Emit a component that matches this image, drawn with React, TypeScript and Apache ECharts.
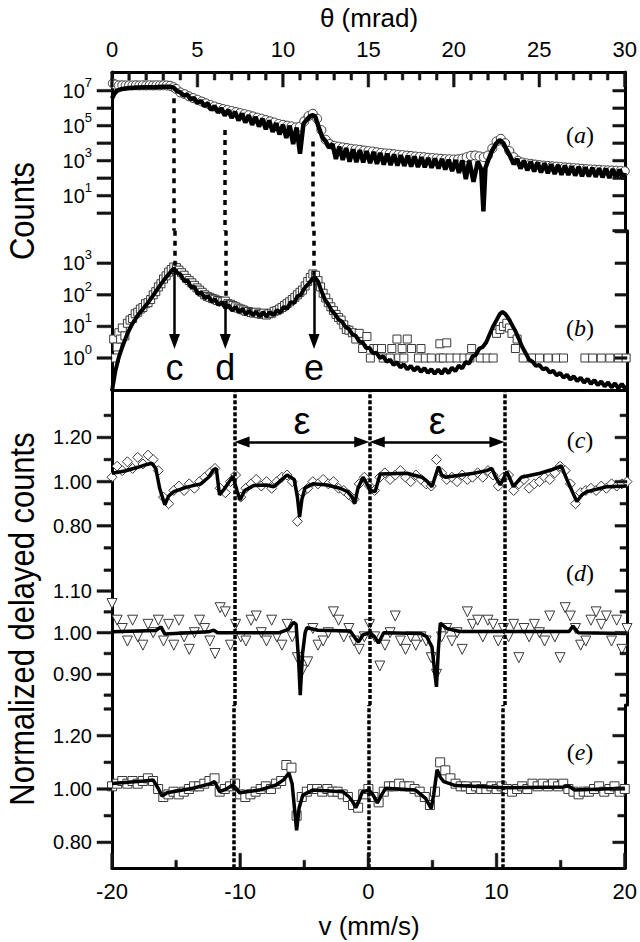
import React, { useEffect, useRef } from "react";
import * as echarts from "echarts";

const FONT = "'Liberation Sans', Arial, Helvetica, sans-serif";
const SERIF = "'Liberation Serif', 'Times New Roman', serif";

// ---------------- DATA ----------------
// Panel (a): measured counts (open circles), [theta mrad, log10(counts)]
const aMeasuredLog: [number, number][] = [
  [0.05, 7.42], [0.2, 7.35], [0.4, 7.3], [0.6, 7.31], [0.8, 7.3], [1.0, 7.31], [1.2, 7.3], [1.4, 7.31],
  [1.6, 7.3], [1.8, 7.31], [2.0, 7.3], [2.2, 7.31], [2.4, 7.3], [2.6, 7.31], [2.8, 7.3], [3.0, 7.31],
  [3.2, 7.3], [3.4, 7.28], [3.6, 7.2], [3.75, 7.1], [4.0, 6.9], [4.25, 6.8], [4.5, 6.68], [4.75, 6.58],
  [5.0, 6.48], [5.25, 6.38], [5.5, 6.28], [5.75, 6.18], [6.0, 6.1], [6.25, 6.02], [6.5, 5.95], [6.75, 5.9],
  [7.0, 5.84], [7.25, 5.78], [7.5, 5.72], [7.75, 5.66], [8.0, 5.6], [8.25, 5.53], [8.5, 5.46], [8.75, 5.4],
  [9.0, 5.32], [9.25, 5.25], [9.5, 5.18], [9.75, 5.1], [10.0, 5.05], [10.25, 5.0], [10.5, 4.96], [10.75, 4.9],
  [11.0, 4.95], [11.25, 5.25], [11.5, 5.55], [11.75, 5.68], [12.0, 5.4], [12.25, 4.75], [12.5, 4.2], [12.75, 3.95],
  [13.0, 3.85], [13.25, 3.8], [13.5, 3.76], [13.75, 3.72], [14.0, 3.68], [14.25, 3.65], [14.5, 3.62], [14.75, 3.58],
  [15.0, 3.55], [15.25, 3.52], [15.5, 3.48], [15.75, 3.45], [16.0, 3.42], [16.25, 3.4], [16.5, 3.37], [16.75, 3.34],
  [17.0, 3.32], [17.25, 3.29], [17.5, 3.27], [17.75, 3.24], [18.0, 3.22], [18.25, 3.2], [18.5, 3.17], [18.75, 3.15],
  [19.0, 3.13], [19.25, 3.11], [19.5, 3.09], [19.75, 3.08], [20.0, 3.07], [20.25, 3.08], [20.5, 3.12], [20.75, 3.2],
  [21.0, 3.28], [21.25, 3.3], [21.5, 3.25], [21.75, 3.2], [22.0, 3.3], [22.25, 3.7], [22.5, 4.1], [22.75, 4.25],
  [23.0, 4.0], [23.25, 3.55], [23.5, 3.2], [23.75, 3.0], [24.0, 2.9], [24.25, 2.85], [24.5, 2.82], [24.75, 2.78],
  [25.0, 2.75], [25.25, 2.72], [25.5, 2.7], [25.75, 2.68], [26.0, 2.66], [26.25, 2.64], [26.5, 2.62], [26.75, 2.6],
  [27.0, 2.58], [27.25, 2.56], [27.5, 2.54], [27.75, 2.52], [28.0, 2.5], [28.25, 2.49], [28.5, 2.48], [28.75, 2.46],
  [29.0, 2.45], [29.25, 2.44], [29.5, 2.43], [29.75, 2.42], [30.0, 2.4],
];
// Panel (a): fit
const aFitLog: [number, number][] = [
  [0, 6.55], [0.15, 6.85], [0.3, 7.0], [0.6, 7.1], [1.0, 7.15], [1.5, 7.18], [2.0, 7.2], [2.5, 7.2], [3.0, 7.22], [3.4, 7.22],
  [3.6, 7.18], [3.8, 6.98], [4.0, 6.9], [4.2, 6.72], [4.4, 6.78], [4.6, 6.52], [4.8, 6.58], [5.0, 6.3], [5.2, 6.42], [5.4, 6.12],
  [5.6, 6.28], [5.8, 5.9], [6.0, 6.12], [6.2, 5.75], [6.4, 6.0], [6.6, 5.58], [6.8, 5.9], [7.0, 5.45], [7.2, 5.8], [7.4, 5.3],
  [7.6, 5.7], [7.8, 5.18], [8.0, 5.6], [8.2, 5.05], [8.4, 5.5], [8.6, 4.95], [8.8, 5.4], [9.0, 4.8], [9.2, 5.3], [9.4, 4.65],
  [9.6, 5.15], [9.8, 4.5], [10.0, 5.05], [10.2, 4.3], [10.4, 5.0], [10.6, 3.95], [10.8, 4.9], [11.0, 3.4], [11.2, 5.1], [11.4, 5.35],
  [11.6, 5.55], [11.75, 5.6], [11.9, 5.5], [12.1, 4.9], [12.3, 4.35], [12.5, 4.1], [12.7, 3.75], [12.9, 3.95], [13.1, 3.1], [13.3, 3.8],
  [13.5, 3.05], [13.7, 3.72], [13.9, 2.95], [14.1, 3.65], [14.3, 2.92], [14.5, 3.6], [14.7, 2.9], [14.9, 3.55], [15.1, 2.86], [15.3, 3.5],
  [15.5, 2.82], [15.7, 3.45], [15.9, 2.78], [16.1, 3.4], [16.3, 2.75], [16.5, 3.36], [16.7, 2.72], [16.9, 3.32], [17.1, 2.7], [17.3, 3.28],
  [17.5, 2.67], [17.7, 3.24], [17.9, 2.64], [18.1, 3.2], [18.3, 2.62], [18.5, 3.16], [18.7, 2.6], [18.9, 3.12], [19.1, 2.56], [19.3, 3.1],
  [19.5, 2.5], [19.7, 3.06], [19.9, 2.4], [20.1, 3.04], [20.3, 2.3], [20.5, 3.02], [20.7, 1.95], [20.9, 3.0], [21.15, 1.8], [21.4, 2.95],
  [21.6, 2.5], [21.73, 0.1], [21.85, 2.6], [22.0, 3.0], [22.2, 3.5], [22.45, 3.95], [22.68, 4.18], [22.9, 4.0], [23.1, 3.6], [23.3, 3.25],
  [23.5, 2.8], [23.7, 3.1], [23.9, 2.55], [24.1, 3.0], [24.3, 2.45], [24.5, 2.95], [24.7, 2.38], [24.9, 2.9], [25.1, 2.33], [25.3, 2.85],
  [25.5, 2.28], [25.7, 2.8], [25.9, 2.24], [26.1, 2.76], [26.3, 2.2], [26.5, 2.72], [26.7, 2.18], [26.9, 2.68], [27.1, 2.15], [27.3, 2.65],
  [27.5, 2.12], [27.7, 2.62], [27.9, 2.1], [28.1, 2.6], [28.3, 2.08], [28.5, 2.57], [28.7, 2.05], [28.9, 2.55], [29.1, 2.02], [29.3, 2.52],
  [29.5, 2.0], [29.7, 2.5], [29.9, 1.95], [30.0, 2.3],
];
// Panel (b): measured delayed counts (open squares)
const bMeasuredLog: [number, number][] = [
  [0.1, 0.6], [0.2, 0.0], [0.3, 0.35], [0.4, 0.8], [0.5, 0.6], [0.6, 0.95], [0.75, 0.7], [0.9, 1.1], [1.05, 1.2], [1.2, 1.25],
  [1.35, 1.4], [1.5, 1.45], [1.65, 1.55], [1.8, 1.6], [1.95, 1.72], [2.1, 1.75], [2.25, 1.85], [2.4, 2.0], [2.55, 2.1], [2.7, 2.25],
  [2.85, 2.35], [3.0, 2.5], [3.15, 2.6], [3.3, 2.72], [3.45, 2.8], [3.6, 2.88], [3.75, 2.86], [3.9, 2.78], [4.05, 2.7], [4.2, 2.62],
  [4.35, 2.52], [4.5, 2.45], [4.65, 2.38], [4.8, 2.3], [4.95, 2.22], [5.1, 2.15], [5.25, 2.08], [5.4, 2.0], [5.55, 1.95], [5.7, 1.92],
  [5.85, 1.88], [6.0, 1.86], [6.15, 1.82], [6.3, 1.8], [6.45, 1.78], [6.6, 1.8], [6.75, 1.72], [6.9, 1.7], [7.05, 1.66], [7.2, 1.62],
  [7.35, 1.58], [7.5, 1.55], [7.65, 1.52], [7.8, 1.48], [7.95, 1.47], [8.1, 1.44], [8.25, 1.42], [8.4, 1.45], [8.55, 1.4], [8.7, 1.38],
  [8.85, 1.42], [9.0, 1.36], [9.15, 1.4], [9.3, 1.42], [9.45, 1.48], [9.6, 1.5], [9.75, 1.55], [9.9, 1.6], [10.05, 1.66], [10.2, 1.72],
  [10.35, 1.78], [10.5, 1.85], [10.65, 1.92], [10.8, 2.0], [10.95, 2.08], [11.1, 2.15], [11.25, 2.28], [11.4, 2.42], [11.55, 2.55], [11.7, 2.66],
  [11.85, 2.62], [12.0, 2.45], [12.15, 2.25], [12.3, 2.05], [12.45, 1.9], [12.6, 1.75], [12.75, 1.62], [12.9, 1.5], [13.05, 1.38], [13.2, 1.28],
  [13.35, 1.2], [13.5, 1.05], [13.65, 0.9], [13.8, 0.88], [14.0, 0.8], [14.2, 0.6], [14.4, 0.78], [14.6, 0.3], [14.85, 0.68], [15.05, 0.0],
  [15.25, 0.3], [15.45, 0.3], [15.7, 0.3], [15.8, 0.0], [16.2, 0.0], [16.3, 0.3], [16.6, 0.6], [16.7, 0.0], [16.9, 0.3], [17.0, 0.0],
  [17.2, 0.6], [17.45, 0.3], [17.85, 0.0], [18.0, 0.3], [18.25, 0.0], [18.6, 0.0], [19.1, 0.45], [19.1, 0.0], [19.3, 0.0], [19.5, 0.48],
  [19.7, 0.0], [20.1, 0.0], [20.5, 0.0], [20.85, 0.0], [20.95, 0.3], [21.45, 0.0], [21.85, 0.0], [22.2, 0.0], [22.4, 0.78], [22.6, 0.9],
  [22.8, 1.0], [23.0, 1.1], [23.15, 0.95], [23.3, 0.78], [23.5, 0.3], [23.6, 0.6], [23.95, 0.0], [24.45, 0.0], [24.9, 0.0], [25.4, 0.0],
  [25.9, 0.0], [26.3, 0.0], [27.55, 0.0], [28.0, 0.0], [28.5, 0.0], [29.0, 0.0], [29.5, 0.0], [29.95, 0.0],
];
// Panel (b): fit
const bFitLog: [number, number][] = [
  [0.0, -1.05], [0.2, -0.4], [0.4, 0.03], [0.6, 0.35], [0.9, 0.78], [1.2, 1.1], [1.5, 1.35], [1.8, 1.55], [2.1, 1.75], [2.4, 1.98],
  [2.7, 2.22], [3.0, 2.45], [3.3, 2.65], [3.6, 2.84], [3.8, 2.7], [4.0, 2.64], [4.2, 2.44], [4.4, 2.46], [4.6, 2.24], [4.8, 2.26],
  [5.0, 2.02], [5.2, 2.08], [5.4, 1.89], [5.6, 1.96], [5.8, 1.79], [6.0, 1.86], [6.2, 1.68], [6.4, 1.77], [6.6, 1.58], [6.8, 1.67],
  [7.0, 1.5], [7.2, 1.62], [7.4, 1.45], [7.6, 1.55], [7.8, 1.38], [8.0, 1.5], [8.2, 1.35], [8.4, 1.47], [8.6, 1.31], [8.8, 1.45],
  [9.0, 1.31], [9.2, 1.46], [9.4, 1.35], [9.6, 1.52], [9.8, 1.43], [10.0, 1.62], [10.2, 1.55], [10.4, 1.77], [10.6, 1.74], [10.8, 1.95],
  [11.0, 2.0], [11.2, 2.2], [11.4, 2.32], [11.6, 2.45], [11.8, 2.57], [12.0, 2.42], [12.2, 2.12], [12.4, 1.85], [12.6, 1.7], [12.8, 1.5],
  [13.0, 1.38], [13.2, 1.22], [13.4, 1.15], [13.6, 0.98], [13.8, 0.92], [14.0, 0.75], [14.2, 0.7], [14.4, 0.52], [14.6, 0.5], [14.8, 0.32],
  [15.0, 0.32], [15.2, 0.15], [15.4, 0.17], [15.6, 0.0], [15.8, 0.05], [16.0, -0.12], [16.2, -0.05], [16.4, -0.22], [16.6, -0.13], [16.8, -0.3],
  [17.0, -0.2], [17.2, -0.36], [17.4, -0.25], [17.6, -0.4], [17.8, -0.28], [18.0, -0.44], [18.2, -0.32], [18.4, -0.47], [18.6, -0.35], [18.8, -0.5],
  [19.0, -0.36], [19.2, -0.5], [19.4, -0.34], [19.6, -0.48], [19.8, -0.3], [20.0, -0.42], [20.2, -0.24], [20.4, -0.33], [20.6, -0.12], [20.8, -0.18],
  [21.0, 0.05], [21.2, 0.1], [21.4, 0.3], [21.6, 0.35], [21.8, 0.5], [22.0, 0.75], [22.2, 1.0], [22.4, 1.2], [22.6, 1.4], [22.75, 1.46],
  [22.9, 1.4], [23.1, 1.25], [23.3, 1.05], [23.5, 0.85], [23.7, 0.6], [23.9, 0.35], [24.1, 0.15], [24.3, -0.05], [24.5, -0.12], [24.7, -0.25],
  [24.9, -0.22], [25.1, -0.36], [25.3, -0.32], [25.5, -0.46], [25.7, -0.4], [25.9, -0.55], [26.1, -0.47], [26.3, -0.62], [26.5, -0.53], [26.7, -0.68],
  [26.9, -0.58], [27.1, -0.73], [27.3, -0.62], [27.5, -0.78], [27.7, -0.66], [27.9, -0.82], [28.1, -0.7], [28.3, -0.86], [28.5, -0.74], [28.7, -0.9],
  [28.9, -0.77], [29.1, -0.93], [29.3, -0.8], [29.5, -0.96], [29.7, -0.82], [29.9, -0.98], [30.0, -0.9],
];
// Lower panels: velocity channels (mm/s)
const velocity: number[] = [
  -20, -19.6, -19.2, -18.8, -18.4, -18, -17.6, -17.2, -16.8, -16.4, -16, -15.6, -15.2, -14.8, -14.4, -14, -13.6, -13.2, -12.8, -12.4,
  -12, -11.6, -11.2, -10.8, -10.4, -10, -9.6, -9.2, -8.8, -8.4, -8, -7.6, -7.2, -6.8, -6.4, -6, -5.6, -5.2, -4.8, -4.4,
  -4, -3.6, -3.2, -2.8, -2.4, -2, -1.6, -1.2, -0.8, -0.4, 0, 0.4, 0.8, 1.2, 1.6, 2, 2.4, 2.8, 3.2, 3.6,
  4, 4.4, 4.8, 5.2, 5.6, 6, 6.4, 6.8, 7.2, 7.6, 8, 8.4, 8.8, 9.2, 9.6, 10, 10.4, 10.8, 11.2, 11.6,
  12, 12.4, 12.8, 13.2, 13.6, 14, 14.4, 14.8, 15.2, 15.6, 16, 16.4, 16.8, 17.2, 17.6, 18, 18.4, 18.8, 19.2, 19.6, 20,
];
// Panel (c): diamonds + fit
const cMeasured: number[] = [
  1.02, 1.07, 1.05, 1.09, 1.06, 1.11, 1.08, 1.12, 1.1, 1.05, 0.93, 0.9, 0.96, 0.98, 0.96, 0.99, 0.97, 1.0, 1.02, 1.04,
  1.06, 0.97, 0.95, 1.0, 1.03, 0.93, 0.97, 0.99, 1.01, 0.98, 1.0, 0.97, 1.0, 1.02, 1.03, 1.0, 0.82, 0.95, 0.97, 1.0,
  0.99, 1.01, 0.99, 1.0, 0.97, 0.96, 0.94, 0.92, 0.99, 1.02, 0.98, 0.96, 1.02, 1.04, 1.01, 1.03, 1.05, 1.02, 1.0, 1.03,
  1.01, 0.99, 0.98, 1.1, 1.04, 1.01, 1.02, 1.0, 1.03, 1.01, 1.02, 1.04, 1.02, 1.05, 1.03, 0.98, 1.02, 1.03, 0.96, 0.99,
  1.01, 0.97, 0.99, 1.0, 1.02, 1.01, 1.04, 1.07, 1.05, 0.99, 0.9, 0.95, 0.96, 0.97, 0.96, 0.98, 0.97, 0.99, 0.98, 0.99, 1.0,
];
const cFit: [number, number][] = [
  [-20, 1.038], [-19, 1.048], [-18, 1.065], [-17.3, 1.078], [-16.9, 1.083], [-16.6, 1.06], [-16.3, 0.97], [-15.9, 0.895], [-15.6, 0.935],
  [-15.2, 0.955], [-14.2, 0.975], [-13.1, 0.99], [-12.5, 1.02], [-12.1, 1.055], [-11.9, 1.06], [-11.65, 0.94], [-11.3, 0.965], [-11.0, 0.99],
  [-10.6, 1.025], [-10.3, 0.96], [-10.05, 0.917], [-9.7, 0.96], [-9.0, 0.982], [-8.0, 0.985], [-7.45, 0.977], [-6.8, 1.01], [-6.4, 1.03],
  [-5.85, 1.01], [-5.6, 0.93], [-5.43, 0.84], [-5.25, 0.92], [-5.0, 0.972], [-4.4, 0.99], [-3.3, 0.985], [-2.3, 0.97], [-1.7, 0.955],
  [-1.35, 0.93], [-1.15, 0.9], [-0.9, 0.97], [-0.5, 1.02], [-0.2, 0.99], [0.05, 0.96], [0.44, 0.955], [0.83, 1.035], [2.9, 1.038],
  [4.07, 1.02], [4.5, 1.0], [4.85, 0.977], [5.2, 1.04], [5.36, 1.068], [5.6, 1.03], [5.9, 1.02], [8.1, 1.038], [9.1, 1.05], [9.5, 1.06],
  [9.8, 1.02], [10.15, 0.985], [10.67, 1.045], [11.18, 0.977], [11.8, 1.02], [13.25, 1.038], [14.2, 1.055], [14.9, 1.071], [15.4, 1.0],
  [16.1, 0.91], [16.5, 0.94], [16.9, 0.955], [18.4, 0.977], [20, 0.98],
];
// Panel (d): down triangles + fit
const dMeasured: number[] = [
  1.07, 1.03, 1.01, 0.98, 1.03, 0.99, 0.97, 1.02, 1.0, 1.03, 0.98, 1.02, 0.97, 1.03, 0.99, 0.96, 1.0, 1.03, 1.01, 0.98,
  0.95, 1.06, 1.05, 0.97, 1.02, 0.99, 0.98, 1.03, 1.04, 1.0, 0.98, 1.03, 0.99, 0.97, 1.02, 0.99, 0.94, 0.91, 0.93, 1.01,
  0.97, 0.98, 1.0, 1.05, 1.03, 0.99, 1.01, 0.98, 0.96, 0.99, 1.02, 0.99, 0.92, 0.97, 1.0, 1.04, 0.98, 0.96, 0.99, 0.97,
  0.99, 0.98, 0.94, 0.9, 0.99, 1.01, 0.98, 1.0, 0.96, 1.05, 1.02, 1.03, 0.99, 1.03, 1.02, 0.98, 1.01, 0.99, 1.02, 0.94,
  1.01, 0.99, 1.02, 1.0, 0.98, 1.04, 0.99, 0.94, 1.06, 1.04, 1.01, 0.97, 0.98, 1.03, 1.05, 1.02, 1.04, 0.98, 1.03, 0.96, 1.01,
];
const dFit: [number, number][] = [
  [-20, 1.002], [-16.6, 1.005], [-16.2, 1.014], [-15.9, 0.997], [-12.5, 1.002], [-12.1, 1.006], [-11.8, 1.0], [-7, 1.0], [-6.3, 1.008],
  [-5.9, 1.025], [-5.7, 1.02], [-5.5, 0.93], [-5.38, 0.85], [-5.2, 0.95], [-5.0, 1.0], [-4.86, 1.012], [-4.0, 1.006], [-1.5, 1.004],
  [-1.0, 0.982], [-0.85, 0.978], [-0.5, 0.995], [0.05, 1.0], [0.4, 0.99], [0.7, 0.975], [1.1, 1.0], [4.0, 0.998], [4.45, 0.99],
  [4.85, 0.966], [5.05, 0.91], [5.2, 0.87], [5.35, 0.96], [5.5, 1.023], [6.0, 1.01], [7, 1.003], [15.5, 1.003], [15.8, 1.016],
  [16.2, 1.0], [20, 0.998],
];
// Panel (e): squares + fit
const eMeasured: number[] = [
  1.01, 1.02, 1.03, 1.02, 1.03, 1.02, 1.03, 1.04, 1.03, 1.0, 0.97, 0.98, 0.99, 0.98, 0.99, 1.0, 1.01, 1.01, 1.02, 1.03,
  1.04, 0.99, 1.0, 1.01, 1.02, 0.98, 0.97, 0.98, 0.99, 1.0, 1.01, 1.0, 1.02, 1.03, 1.09, 1.08, 0.9, 0.97, 0.99, 1.0,
  1.0, 0.99, 1.0, 0.99, 0.99, 0.98, 0.97, 0.94, 0.93, 0.98, 1.0, 0.97, 0.95, 0.99, 1.01, 1.01, 1.02, 1.01, 1.01, 1.0,
  0.99, 0.97, 0.94, 0.99, 1.1, 1.07, 1.04, 1.02, 1.01, 1.01, 1.0, 1.01, 1.0, 1.0, 1.01, 1.0, 1.01, 1.0, 0.99, 1.0,
  1.01, 1.0, 1.02, 1.01, 1.02, 1.01, 1.02, 1.01, 1.02, 1.0, 0.99, 0.98, 0.99, 0.99, 1.0, 1.01, 0.99, 1.0, 1.01, 0.99, 1.0,
];
const eFit: [number, number][] = [
  [-20, 1.021], [-17.5, 1.03], [-16.8, 1.034], [-16.4, 1.003], [-16.1, 0.974], [-15.7, 0.986], [-13.7, 1.003], [-12.3, 1.02], [-12.0, 1.028],
  [-11.6, 0.99], [-11.1, 1.0], [-10.56, 1.015], [-10.04, 0.986], [-8.5, 0.996], [-7.2, 1.015], [-6.6, 1.035], [-6.2, 1.06], [-5.95, 1.02],
  [-5.75, 0.92], [-5.6, 0.845], [-5.4, 0.93], [-5.12, 0.977], [-4.35, 0.996], [-2.0, 0.99], [-1.5, 0.97], [-1.2, 0.95], [-0.98, 0.93],
  [-0.7, 0.96], [-0.46, 0.99], [0.05, 0.996], [0.4, 0.975], [0.7, 0.948], [1.0, 0.975], [1.35, 1.003], [3.68, 0.996], [4.46, 0.965],
  [4.9, 0.927], [5.1, 0.98], [5.36, 1.072], [5.6, 1.045], [5.88, 1.028], [6.8, 1.013], [10.66, 1.005], [15.2, 1.008], [15.6, 1.011],
  [16.1, 0.996], [20, 1.003],
];

// Tick values
const thetaMajorTicks = [0, 5, 10, 15, 20, 25, 30];
const thetaMinorTicks = [1, 2, 3, 4, 6, 7, 8, 9, 11, 12, 13, 14, 16, 17, 18, 19, 21, 22, 23, 24, 26, 27, 28, 29];
const velocityMajorTicks = [-20, -10, 0, 10, 20];
const velocityMinorTicks = [-15, -5, 5, 15];
const aDecadesLeft = [1, 10, 100, 1e3, 1e4, 1e5, 1e6, 1e7];
const aDecadesRight = [0.1, 1, 10, 100, 1e3, 1e4, 1e5, 1e6, 1e7];
const bDecadesLeft = [1, 10, 100, 1e3];
const bDecadesRight = [1, 10, 100, 1e3, 1e4];
const cMajorTicks = [0.8, 1.0, 1.2];
const cMinorTicks = [0.7, 0.9, 1.1, 1.3];
const dMajorTicks = [0.9, 1.0, 1.1];
const dMinorTicks = [0.85, 0.95, 1.05, 1.15];
const eMajorTicks = [0.8, 1.0, 1.2];
const eMinorTicks = [0.9, 1.1, 1.3];

// Annotations
const resonanceAngles = [
  { name: "c", theta: 3.64, topLog: 6.57, arrowStartLog: 2.84 },
  { name: "d", theta: 6.6, topLog: 4.75, arrowStartLog: 1.63 },
  { name: "e", theta: 11.77, topLog: 4.09, arrowStartLog: 2.47 },
];
const splitVelocities = [-10.5, 0, 10.5];

// ---------------- LAYOUT ----------------
const L = 112;
const R = 13;
const grids = [
  { left: L, right: R, top: 72, height: 158.7 },
  { left: L, right: R, top: 230.7, height: 160 },
  { left: L, right: R, top: 390.7, height: 157.6 },
  { left: L, right: R, top: 548.3, height: 156.7 },
  { left: L, right: R, top: 705, height: 163.3 },
];
const BLACK = "#000000";
const TICK = "#141414";
const lineAxis = () => ({ show: true, onZero: false, lineStyle: { color: BLACK, width: 3 } });
const noTick = () => ({ show: false });
const powRich = () => ({
  b: { fontSize: 20, fontFamily: FONT, color: BLACK, lineHeight: 30, verticalAlign: "middle" },
  s: { fontSize: 13, fontFamily: FONT, color: BLACK, lineHeight: 13, verticalAlign: "top" },
});

function logAxes(gridIndex: number, min: number, max: number, show: (e: number) => boolean) {
  const fmt = (v: number) => {
    const e = Math.log10(v);
    const r = Math.round(e);
    if (Math.abs(e - r) > 1e-6 || !show(r)) return "";
    return `{b|10}{s|${r}}`;
  };
  return [
    {
      type: "log", logBase: 10, gridIndex, min, max, splitNumber: 9, position: "left",
      axisLine: lineAxis(), axisTick: noTick(),
      axisLabel: { show: true, margin: 20, formatter: fmt, rich: powRich() },
      splitLine: { show: false },
    },
    {
      type: "log", logBase: 10, gridIndex, min, max, splitNumber: 9, position: "right",
      axisLine: lineAxis(), axisTick: noTick(), axisLabel: { show: false }, splitLine: { show: false },
    },
  ];
}
function linAxes(gridIndex: number, min: number, max: number, major: number[]) {
  const base = () => ({ type: "value", gridIndex, min, max, splitLine: { show: false } });
  return [
    {
      ...base(), position: "left", axisLine: lineAxis(), axisTick: noTick(),
      axisLabel: {
        show: true, customValues: major, margin: 20, fontSize: 20, fontFamily: FONT, color: BLACK,
        formatter: (v: number) => Number(v).toFixed(2),
      },
    },
    { ...base(), position: "right", axisLine: lineAxis(), axisTick: noTick(), axisLabel: { show: false } },
  ];
}

const toCounts = (pairs: [number, number][]) => pairs.map(([x, e]) => [x, Math.pow(10, e)]);
const A_MIN = 0.1, A_MAX = 1.17e8;
const B_MIN = 0.0923, B_MAX = 10700;
const C_RANGE = [0.698, 1.412];
const D_RANGE = [0.8264, 1.2026];
const E_RANGE = [0.7027, 1.315];

// [xAxisIndex, yAxisIndex, side, values, length, anchor value on the other axis]
const tickSpecs: [number, number, string, number[], number, number][] = [
  [0, 0, "top", thetaMajorTicks, 15, A_MAX],
  [0, 0, "top", thetaMinorTicks, 8, A_MAX],
  [0, 0, "left", aDecadesLeft, 15, 0],
  [0, 0, "right", aDecadesRight, 12, 30],
  [1, 2, "left", bDecadesLeft, 15, 0],
  [1, 2, "right", bDecadesRight, 12, 30],
  [2, 4, "left", cMajorTicks, 15, -20],
  [2, 4, "left", cMinorTicks, 8, -20],
  [2, 4, "right", cMajorTicks, 12, 20],
  [2, 4, "right", cMinorTicks, 7, 20],
  [3, 6, "left", dMajorTicks, 15, -20],
  [3, 6, "left", dMinorTicks, 8, -20],
  [3, 6, "right", dMajorTicks, 12, 20],
  [3, 6, "right", dMinorTicks, 7, 20],
  [4, 8, "left", eMajorTicks, 15, -20],
  [4, 8, "left", eMinorTicks, 8, -20],
  [4, 8, "right", eMajorTicks, 12, 20],
  [4, 8, "right", eMinorTicks, 7, 20],
  [4, 8, "bottom", velocityMajorTicks, 15, E_RANGE[0]],
  [4, 8, "bottom", velocityMinorTicks, 8, E_RANGE[0]],
];

function tickSeries(xAxisIndex: number, yAxisIndex: number, side: string, values: number[], len: number, anchor: number) {
  const vertical = side === "left" || side === "right";
  const W = 2.6;
  return {
    type: "custom", coordinateSystem: "cartesian2d", xAxisIndex, yAxisIndex, clip: false, z: 10,
    data: values.map((v) => (vertical ? [anchor, v] : [v, anchor])),
    renderItem: (_p: any, api: any) => {
      const p = api.coord([api.value(0), api.value(1)]);
      let shape;
      if (vertical) shape = { x: p[0] - len, y: p[1] - W / 2, width: len, height: W };
      else if (side === "top") shape = { x: p[0] - W / 2, y: p[1], width: W, height: len };
      else shape = { x: p[0] - W / 2, y: p[1] - len, width: W, height: len };
      return { type: "rect", shape, style: { fill: TICK, stroke: TICK, lineWidth: 0.5 } };
    },
  };
}

function buildOption() {
  const yAxis = [
    ...logAxes(0, A_MIN, A_MAX, (e) => e % 2 !== 0 && e >= 1 && e <= 7),
    ...logAxes(1, B_MIN, B_MAX, (e) => e >= 0 && e <= 3),
    ...linAxes(2, C_RANGE[0], C_RANGE[1], cMajorTicks),
    ...linAxes(3, D_RANGE[0], D_RANGE[1], dMajorTicks),
    ...linAxes(4, E_RANGE[0], E_RANGE[1], eMajorTicks),
  ];
  const xAxis = [
    {
      type: "value", gridIndex: 0, min: 0, max: 30, interval: 5, position: "top",
      axisLine: lineAxis(), axisTick: noTick(),
      axisLabel: { show: true, fontSize: 22, fontFamily: FONT, color: BLACK, margin: 12 },
      splitLine: { show: false },
    },
    {
      type: "value", gridIndex: 1, min: 0, max: 30, position: "bottom",
      axisLine: lineAxis(), axisTick: noTick(), axisLabel: { show: false }, splitLine: { show: false },
    },
    { type: "value", gridIndex: 2, min: -20, max: 20, show: false, axisLine: { onZero: false }, splitLine: { show: false } },
    { type: "value", gridIndex: 3, min: -20, max: 20, show: false, axisLine: { onZero: false }, splitLine: { show: false } },
    {
      type: "value", gridIndex: 4, min: -20, max: 20, interval: 10, position: "bottom",
      axisLine: lineAxis(), axisTick: noTick(),
      axisLabel: { show: true, fontSize: 22, fontFamily: FONT, color: BLACK, margin: 12 },
      splitLine: { show: false },
    },
  ];
  const marker = (symbol: string, size: number, rotate = 0) => ({
    symbol, symbolSize: size, symbolRotate: rotate,
    itemStyle: { color: "#fff", borderColor: "#3a3a3a", borderWidth: 1, opacity: 1 },
  });
  const fitLine = (width: number) => ({
    type: "line", showSymbol: false, symbol: "none", z: 3,
    lineStyle: { color: BLACK, width }, itemStyle: { color: BLACK },
  });
  const dottedMark = (data: any[], dash: number[], width: number) => ({
    silent: true, symbol: "none", animation: false,
    label: { show: false },
    lineStyle: { color: BLACK, width, type: dash },
    emphasis: { disabled: true, lineStyle: { width } },
    data,
  });

  const series: any[] = [
    {
      type: "scatter", xAxisIndex: 0, yAxisIndex: 0, z: 2, data: toCounts(aMeasuredLog), ...marker("circle", 9),
      markLine: dottedMark(
        resonanceAngles.map((r) => [{ coord: [r.theta, Math.pow(10, r.topLog)] }, { coord: [r.theta, A_MIN] }]),
        [5, 5], 3.5
      ),
    },
    { ...fitLine(4.5), xAxisIndex: 0, yAxisIndex: 0, data: toCounts(aFitLog) },
    {
      type: "scatter", xAxisIndex: 1, yAxisIndex: 2, z: 2, data: toCounts(bMeasuredLog), ...marker("rect", 8),
      markLine: dottedMark(
        resonanceAngles.map((r) => [{ coord: [r.theta, B_MAX] }, { coord: [r.theta, Math.pow(10, r.arrowStartLog)] }]),
        [5, 5], 3.5
      ),
    },
    {
      ...fitLine(4), xAxisIndex: 1, yAxisIndex: 2, data: toCounts(bFitLog),
      markLine: {
        silent: true, animation: false,
        symbol: ["none", "triangle"], symbolSize: [11, 15],
        lineStyle: { color: BLACK, width: 2.5, type: "solid" },
        emphasis: { disabled: true },
        label: { show: true, position: "end", formatter: "{b}", distance: 8, fontSize: 36, fontFamily: FONT, color: BLACK },
        data: resonanceAngles.map((r) => [
          { name: r.name, coord: [r.theta, Math.pow(10, r.arrowStartLog)] },
          { coord: [r.theta, Math.pow(10, 0.52)] },
        ]),
      },
    },
    {
      type: "scatter", xAxisIndex: 2, yAxisIndex: 4, z: 2,
      data: velocity.map((v, i) => [v, cMeasured[i]]), ...marker("diamond", 10),
      markLine: dottedMark(splitVelocities.map((v) => ({ xAxis: v })), [4, 2], 3.5),
    },
    {
      ...fitLine(3.5), xAxisIndex: 2, yAxisIndex: 4, data: cFit,
      markLine: {
        silent: true, animation: false,
        symbol: ["triangle", "triangle"], symbolSize: [11, 15],
        lineStyle: { color: BLACK, width: 2.5, type: "solid" },
        emphasis: { disabled: true },
        label: { show: true, position: "insideMiddleTop", formatter: "ε", distance: 2, fontSize: 38, fontFamily: FONT, color: BLACK },
        data: [
          [{ coord: [splitVelocities[0] + 0.6, 1.18] }, { coord: [splitVelocities[1] - 0.6, 1.18] }],
          [{ coord: [splitVelocities[1] + 0.6, 1.18] }, { coord: [splitVelocities[2] - 0.6, 1.18] }],
        ],
      },
    },
    {
      type: "scatter", xAxisIndex: 3, yAxisIndex: 6, z: 2,
      data: velocity.map((v, i) => [v, dMeasured[i]]), ...marker("triangle", 10, 180),
      markLine: dottedMark(splitVelocities.map((v) => ({ xAxis: v })), [4, 2], 3.5),
    },
    { ...fitLine(3.5), xAxisIndex: 3, yAxisIndex: 6, data: dFit },
    {
      type: "scatter", xAxisIndex: 4, yAxisIndex: 8, z: 2,
      data: velocity.map((v, i) => [v, eMeasured[i]]), ...marker("rect", 9),
      markLine: dottedMark(splitVelocities.map((v) => ({ xAxis: v })), [4, 2], 3.5),
    },
    { ...fitLine(3.5), xAxisIndex: 4, yAxisIndex: 8, data: eFit },
    ...tickSpecs.map(([xi, yi, side, values, len, anchor]) => tickSeries(xi, yi, side, values, len, anchor)),
  ];

  const centered = { align: "center", verticalAlign: "middle", textAlign: "center", textVerticalAlign: "middle" };
  const panelLabel = (letter: string, x: number, y: number) => ({
    type: "text", x, y, z: 10,
    style: {
      text: `{p|(}{i|${letter}}{p|)}`,
      rich: {
        p: { fontFamily: SERIF, fontSize: 24, fill: BLACK },
        i: { fontFamily: SERIF, fontSize: 24, fontStyle: "italic", fill: BLACK },
      },
      ...centered,
    },
  });
  const graphic = [
    { type: "text", x: 369, y: 18, style: { text: "θ (mrad)", fontSize: 26, fontFamily: FONT, fill: BLACK, ...centered } },
    { type: "text", x: 369, y: 926, style: { text: "v (mm/s)", fontSize: 26, fontFamily: FONT, fill: BLACK, ...centered } },
    { type: "text", x: 22, y: 211, rotation: Math.PI / 2, scaleX: 0.86, style: { text: "Counts", fontSize: 36, fontFamily: FONT, fill: BLACK, ...centered } },
    { type: "text", x: 22, y: 619, rotation: Math.PI / 2, scaleX: 0.86, style: { text: "Normalized delayed counts", fontSize: 36, fontFamily: FONT, fill: BLACK, ...centered } },
    panelLabel("a", 580, 135),
    panelLabel("b", 580, 328),
    panelLabel("c", 580, 440),
    panelLabel("d", 580, 573),
    panelLabel("e", 580, 752),
  ];

  return { animation: false, grid: grids, xAxis, yAxis, series, graphic };
}

export default function App() {
  const ref = useRef<HTMLDivElement>(null);
  useEffect(() => {
    if (!ref.current) return;
    const chart = echarts.init(ref.current, null, { renderer: "svg" });
    chart.setOption(buildOption() as any);
    return () => chart.dispose();
  }, []);
  return (
    <div style={{ position: "absolute", left: 0, top: 0 }}>
      <div ref={ref} style={{ width: 640, height: 942 }} />
    </div>
  );
}
